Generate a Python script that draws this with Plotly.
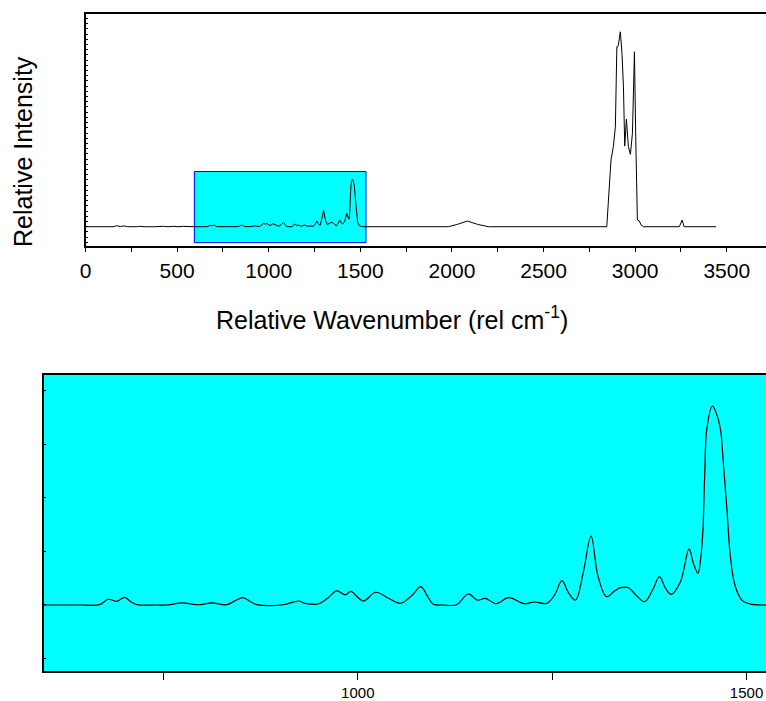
import plotly.graph_objects as go

# Raman spectrum (intensity normalised so the tallest band ~1)
wavenumber = [0, 150, 170, 190, 210, 230, 280, 297, 320, 352, 380, 425, 450, 479, 505, 534, 560,
              596, 640, 668, 679, 690, 700, 708, 716, 740, 754, 774, 795, 812, 831, 842, 852, 862,
              870, 904, 924, 932, 949, 962, 973, 984, 991, 1007, 1023, 1040, 1055, 1070, 1081,
              1090, 1097, 1110, 1127, 1142, 1154, 1164, 1178, 1194, 1214, 1227, 1243, 1253,
              1262.5, 1271, 1280, 1290, 1300, 1309, 1320, 1330, 1338, 1348, 1358, 1369, 1379,
              1388, 1396, 1403, 1415, 1426, 1432, 1437.5, 1441.5, 1444, 1446, 1449, 1456, 1460,
              1464, 1467, 1470, 1475, 1479, 1485, 1494, 1505, 1520, 1600, 1980, 2030, 2084, 2140,
              2199, 2845, 2848, 2858, 2868, 2881, 2892, 2900, 2905, 2908, 2919, 2928, 2936, 2943,
              2952, 2963, 2974, 2985, 2996, 3003, 3012, 3023, 3032, 3045, 3241, 3256, 3267, 3442]
intensity = [0, 0, 0.005, 0.001, 0.004, 0, 0, 0.002, 0, 0.002, 0, 0.002, 0, 0.002, 0, 0.002, 0,
             0, 0, 0.0005, 0.0070, 0.0045, 0.0094, 0.004, 0.0005, 0, 0, 0.0025, 0.0003, 0.0025,
             0.0003, 0.005, 0.009, 0.004, 0.0005, 0.0003, 0.0049, 0.002, 0.0012, 0.009, 0.0172,
             0.0123, 0.0168, 0.0049, 0.0156, 0.008, 0.002, 0.012, 0.0225, 0.010, 0.001, 0,
             0.0003, 0.0135, 0.006, 0.0082, 0.0016, 0.009, 0.0016, 0.0037, 0.002, 0.012, 0.0298,
             0.015, 0.0061, 0.04, 0.0846, 0.035, 0.0102, 0.017, 0.0212, 0.0212, 0.012, 0.004,
             0.018, 0.0347, 0.02, 0.0131, 0.0286, 0.0687, 0.05, 0.0389, 0.0613, 0.094, 0.155,
             0.2166, 0.244, 0.238, 0.226, 0.212, 0.176, 0.114, 0.0613, 0.0245, 0.006, 0.001, 0,
             0, 0, 0.012, 0.029, 0.012, 0, 0, 0.05, 0.204, 0.341, 0.409, 0.511, 0.92, 0.92,
             0.928, 0.996, 0.886, 0.715, 0.412, 0.549, 0.409, 0.37, 0.477, 0.894, 0.46, 0.034,
             0.029, 0.009, 0, 0, 0.034, 0, 0]

zoom_x = [596, 1525]          # region shown in the lower panel
zoom_y = [-0.0813, 0.282]
full_x = [0, 3714]
full_y = [-0.097, 1.087]

W, H = 766, 701
FONT = "Arial, Liberation Sans, sans-serif"

fig = go.Figure()
fig.add_trace(go.Scatter(x=wavenumber, y=intensity, mode="lines",
                         line=dict(color="black", width=1), xaxis="x", yaxis="y",
                         showlegend=False, hoverinfo="skip"))
fig.add_trace(go.Scatter(x=wavenumber, y=intensity, mode="lines",
                         line=dict(color="black", width=1.2, shape="spline", smoothing=1),
                         xaxis="x2", yaxis="y2", showlegend=False, hoverinfo="skip"))

# inset box on the overview
fig.add_shape(type="rect", xref="x", yref="y", x0=zoom_x[0] - 2, x1=1531,
              y0=zoom_y[0], y1=zoom_y[1], fillcolor="#00ffff",
              line=dict(color="#0000ff", width=1), layer="below")
# cyan background of the lower panel
fig.add_shape(type="rect", xref="x2 domain", yref="y2 domain", x0=0, x1=1, y0=0, y1=1,
              fillcolor="#00ffff", line=dict(width=0), layer="below")

axis_common = dict(showgrid=False, zeroline=False, showline=True, linecolor="black",
                   linewidth=1.5, tickcolor="black", automargin=False)

fig.update_layout(
    width=W, height=H,
    margin=dict(l=0, r=0, t=0, b=0),
    paper_bgcolor="white", plot_bgcolor="white",
    font=dict(family=FONT, color="black"),
    xaxis=dict(**axis_common, domain=[85.5 / W, 1], range=full_x, anchor="y",
               mirror=True, ticks="outside", ticklen=5, tickwidth=1, dtick=500, tick0=0,
               tickfont=dict(size=21),
               minor=dict(ticks="outside", ticklen=5, dtick=250, tickcolor="black")),
    yaxis=dict(**axis_common, domain=[1 - 245.7 / H, 1 - 14 / H], range=full_y, anchor="x",
               ticks="inside", ticklen=3, tickwidth=1, dtick=0.0266, tick0=0,
               showticklabels=False),
    xaxis2=dict(**axis_common, domain=[43.7 / W, 1], range=zoom_x, anchor="y2",
                mirror=True, ticks="outside", ticklen=7, tickwidth=1, dtick=500, tick0=0,
                tickfont=dict(size=15),
                minor=dict(ticks="outside", ticklen=7, dtick=250, tickcolor="black")),
    yaxis2=dict(**axis_common, domain=[1 - 671.3 / H, 1 - 375 / H], range=zoom_y, anchor="x2",
                ticks="inside", ticklen=3, tickwidth=1, dtick=0.0657, tick0=0,
                showticklabels=False),
    annotations=[
        dict(text="Relative Wavenumber (rel cm<sup>-1</sup>)", xref="paper", yref="paper",
             x=392 / W, y=1 - 318 / H, showarrow=False, font=dict(size=25),
             xanchor="center", yanchor="middle"),
        dict(text="Relative Intensity", xref="paper", yref="paper",
             x=23 / W, y=1 - 152 / H, showarrow=False, font=dict(size=25), textangle=-90,
             xanchor="center", yanchor="middle"),
    ],
)

fig.write_html("out.html", config={"displayModeBar": False},
               post_script="document.body.style.margin='0';document.body.style.overflow='hidden';")
